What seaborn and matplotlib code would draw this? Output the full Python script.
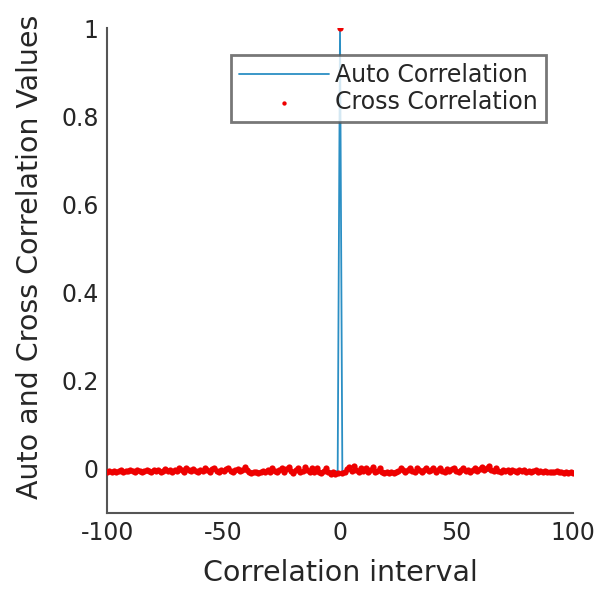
import matplotlib
matplotlib.use("Agg")
import matplotlib.pyplot as plt
import seaborn as sns
import numpy as np

# ---- data ----
cross_lags = list(range(-100, 101))
cross_vals = [
    -0.006, -0.005, -0.007, -0.004, -0.006, -0.005, -0.003, -0.006, -0.004, -0.005,
    -0.002, -0.005, -0.006, -0.003, -0.004, -0.007, -0.005, -0.002, -0.004, -0.006,
    -0.003, -0.005, -0.002, -0.006, -0.004, -0.001, -0.005, -0.003, -0.006, -0.002,
    -0.004, 0.001, -0.003, -0.006, 0.003, -0.002, -0.005, 0.000, -0.004, -0.007,
    -0.002, -0.005, 0.002, -0.003, -0.006, -0.001, 0.003, -0.004, -0.006, -0.002,
    -0.005, -0.001, 0.002, -0.004, -0.007, -0.003, 0.000, -0.005, -0.002, 0.004,
    -0.003, -0.007, -0.009, -0.008, -0.006, -0.009, -0.007, -0.004, -0.008, -0.002,
    -0.006, 0.001, -0.004, -0.008, -0.003, 0.002, -0.006, -0.001, 0.004, -0.005,
    -0.009, -0.002, 0.003, -0.007, -0.004, 0.005, -0.003, -0.008, 0.002, -0.006,
    0.001, -0.007, -0.010, -0.004, 0.003, -0.006, -0.011, -0.008, -0.012, -0.009,
    1.000,
    -0.010, -0.006, -0.001, 0.004, -0.004, 0.006, -0.002, -0.007, 0.003, -0.005,
    0.002, -0.006, -0.003, 0.004, -0.008, -0.004, 0.001, -0.007, -0.010, -0.008,
    -0.009, -0.007, -0.010, -0.008, -0.005, 0.001, -0.003, -0.007, -0.002, 0.003,
    -0.004, -0.006, 0.001, -0.003, -0.007, -0.002, 0.002, -0.005, -0.003, 0.001,
    -0.006, -0.002, 0.003, -0.004, -0.006, 0.000, -0.005, -0.001, 0.002, -0.004,
    -0.006, -0.002, 0.001, -0.005, -0.003, -0.007, -0.002, 0.002, -0.004, -0.001,
    0.004, -0.003, 0.001, 0.006, -0.002, -0.005, 0.002, -0.004, -0.006, -0.003,
    -0.005, -0.002, -0.006, -0.003, -0.004, -0.007, -0.003, -0.005, -0.002, -0.006,
    -0.004, -0.007, -0.005, -0.003, -0.006, -0.004, -0.007, -0.005, -0.006, -0.008,
    -0.006, -0.007, -0.005, -0.008, -0.006, -0.009, -0.007, -0.010, -0.008, -0.009,
]
auto_lags = [-100, -1, 0, 1, 100]
auto_vals = [-0.005, -0.005, 1.0, -0.005, -0.005]

xticks = [-100, -50, 0, 50, 100]
xtick_labels = ["-100", "-50", "0", "50", "100"]
yticks = [0, 0.2, 0.4, 0.6, 0.8, 1.0]
ytick_labels = ["0", "0.2", "0.4", "0.6", "0.8", "1"]

sns.set_style("white")
plt.rcParams["font.family"] = ["DejaVu Sans"]

fig = plt.figure(figsize=(6.05, 5.92), dpi=100)
ax = fig.add_axes([0.177, 0.1334, 0.770, 0.8193])

sns.lineplot(x=auto_lags, y=auto_vals, ax=ax, color="#2b8fc4", lw=1.3,
             label="Auto Correlation", zorder=2)
sns.scatterplot(x=cross_lags, y=cross_vals, ax=ax, color="#ee0000", marker="o",
                s=20, linewidth=0, label="Cross Correlation", zorder=3)

ax.set_xlim(-100, 100)
ax.set_ylim(-0.1, 1.0)
ax.set_xticks(xticks)
ax.set_xticklabels(xtick_labels)
ax.set_yticks(yticks)
ax.set_yticklabels(ytick_labels)

for s in ["top", "right"]:
    ax.spines[s].set_visible(False)
for s in ["left", "bottom"]:
    ax.spines[s].set_color("#555555")
    ax.spines[s].set_linewidth(1.5)
ax.tick_params(direction="in", length=4, width=1, color="#555555",
               labelsize=17, labelcolor="#262626")
ax.tick_params(axis="x", pad=6)
ax.tick_params(axis="y", pad=6)
ax.set_xlabel("Correlation interval", fontsize=20.5, color="#262626", labelpad=10)
ax.set_ylabel("Auto and Cross Correlation Values", fontsize=20.5, color="#262626")
ax.yaxis.set_label_coords(-0.135, 0.528)

leg = ax.legend(loc="upper right", bbox_to_anchor=(0.942, 0.944), fontsize=17,
                frameon=True, fancybox=False, handlelength=3.8, borderpad=0.35,
                labelspacing=0.1, handletextpad=0.25, borderaxespad=0,
                markerscale=0.7)
leg.get_frame().set_edgecolor("#555555")
leg.get_frame().set_linewidth(2)
for t in leg.get_texts():
    t.set_color("#262626")

fig.savefig("out.png", dpi=100)
